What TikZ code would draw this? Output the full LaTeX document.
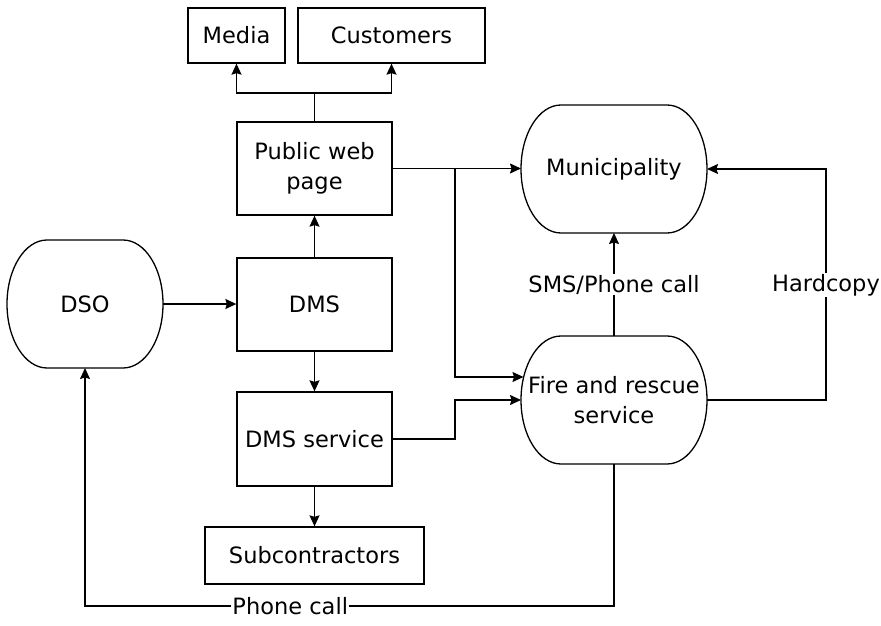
\documentclass[tikz,border=0pt]{standalone}
\usepackage{fontspec}
\setmainfont{DejaVu Sans}
\usetikzlibrary{arrows.meta}

\tikzset{
  box/.style={draw, line width=1.3pt, inner sep=0pt, align=center,
    font=\fontsize{22.5}{30}\selectfont},
  bubble/.style={inner sep=0pt, outer sep=0pt, align=center,
    minimum height=128pt, font=\fontsize{22.5}{30}\selectfont},
  link/.style={line width=1.3pt},
  arrow/.style={line width=1.3pt, -{Stealth[length=11pt, width=10pt, inset=1.5pt]}},
  tag/.style={fill=white, inner sep=1pt, font=\fontsize{22.5}{30}\selectfont}
}

\begin{document}
\begin{tikzpicture}[x=1pt, y=-1pt]
\useasboundingbox (0,0) rectangle (881,626);

% boxes
\node[box, minimum width=97pt, minimum height=55pt] (media) at (236.5,35.5) {Media};
\node[box, minimum width=187pt, minimum height=55pt] (customers) at (391.5,35.5) {Customers};
\node[box, minimum width=155pt, minimum height=93pt] (web) at (314.5,168.5) {Public web\\page};
\node[box, minimum width=155pt, minimum height=93pt] (dms) at (314.5,304.5) {DMS};
\node[box, minimum width=155pt, minimum height=94pt] (dmsservice) at (314.5,439) {DMS service};
\node[box, minimum width=219pt, minimum height=57pt] (sub) at (314.5,555.5) {Subcontractors};

% rounded actors
\node[bubble, minimum width=156pt] (dso) at (85,304) {DSO};
\node[bubble, minimum width=186pt] (muni) at (614,169) {Municipality};
\node[bubble, minimum width=186pt] (fire) at (614,400) {Fire and rescue\\service};
\foreach \n in {dso,muni,fire}
  \draw[link] ([xshift=40pt]\n.north west) -- ([xshift=-40pt]\n.north east)
    arc[start angle=90, end angle=-90, x radius=40pt, y radius=64pt]
    -- ([xshift=40pt]\n.south west)
    arc[start angle=270, end angle=90, x radius=40pt, y radius=64pt] -- cycle;

% helper points
\coordinate (split) at (314.5,93);
\coordinate (bend) at (455,377);
\coordinate (hc) at (826,285);
\coordinate (low) at (0,606);

% web page to media and customers
\draw[link] (web.north) -- (split);
\draw[arrow] (split) -| (media.south);
\draw[arrow] (split) -| (customers.south);

% DMS chain
\draw[arrow] (dso.east) -- (dso.east -| dms.west);
\draw[arrow] (dms) -- (web);
\draw[arrow] (dms) -- (dmsservice);
\draw[arrow] (dmsservice) -- (sub);

% to municipality and fire and rescue
\draw[arrow] (web.east) -- (web.east -| muni.west);
\draw[arrow] (bend |- web.east) -- (bend) -- ([xshift=2.5pt]fire.west |- bend);
\draw[arrow] (dmsservice.east) -| (bend |- fire.west) -- (fire.west);
\draw[arrow] (fire.north) -- node[tag] {SMS/Phone call} (muni.south);
\draw[arrow] (fire.east) -| (hc) node[tag] {Hardcopy} |- (muni.east);

% phone call back to DSO
\draw[arrow] (fire.south) -- (fire.south |- low)
  -- node[tag, pos=0.612] {Phone call} (dso.south |- low) -- (dso.south);

\end{tikzpicture}
\end{document}
